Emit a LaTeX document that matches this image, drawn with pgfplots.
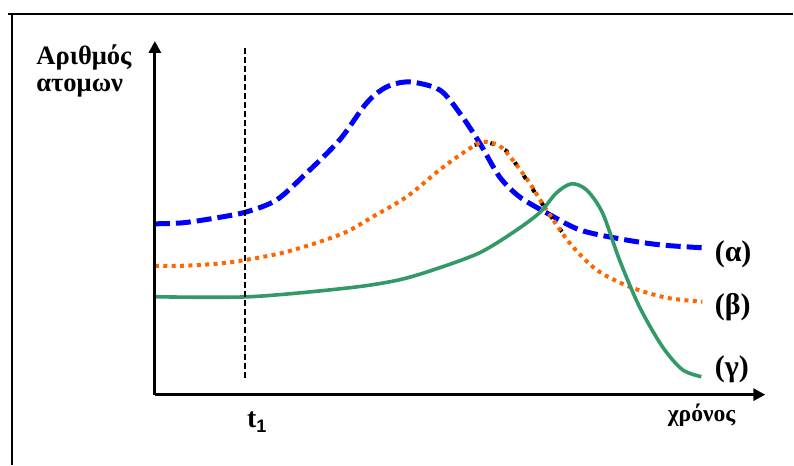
\documentclass[border=0pt]{standalone}
\usepackage{pgfplots}
\pgfplotsset{compat=1.18}
\usepackage{fontspec}
\setmainfont{Liberation Serif}
\newfontfamily\tnr{Liberation Serif}
\newfontfamily\arialf{Liberation Sans}
\usetikzlibrary{arrows.meta}

\definecolor{cA}{RGB}{0,0,255}
\definecolor{cB}{RGB}{255,102,0}
\definecolor{cC}{RGB}{51,153,102}

\begin{document}
\begin{tikzpicture}
\begin{axis}[
    scale only axis,
    width=397pt, height=232.5pt,
    xmin=-155, xmax=639, ymin=-70, ymax=395,
    axis lines=none,
    clip=false,
]
% keep the whole page as bounding box
\path (axis cs:-155,-70) rectangle (axis cs:639,395);
% frame of the page
\draw[line width=0.7pt] (axis cs:-147,381) -- (axis cs:639,381);
\draw[line width=0.7pt] (axis cs:-143,381) -- (axis cs:-143,-70);

% (alpha)
\addplot[cA, line width=2.5pt, dash pattern=on 7.5pt off 3pt, smooth, tension=0.5] coordinates {
(0,171) (28,172) (62,177) (92,183) (122,195) (152,222) (185,255) (212,292)
(232,308) (255,313) (285,305) (305,282) (325,252) (345,218) (365,198)
(392,182) (425,165) (465,156) (505,150) (548,147)};

% black dotted piece under (beta)
\addplot[black, line width=2pt, dash pattern=on 2pt off 6pt, smooth] coordinates {
(320,250) (335,252) (348,246) (355,240) (378,206) (387,192) (411,158)};

% (beta)
\addplot[cB, line width=2pt, dash pattern=on 2pt off 2.2pt, smooth, tension=0.5] coordinates {
(0,129) (28,129) (62,131) (92,135) (128,142) (162,152) (192,163) (218,178)
(252,198) (285,225) (310,243) (328,253) (345,249) (358,235) (375,212)
(392,185) (415,152) (442,125) (475,108) (512,97) (548,93)};

% (gamma)
\addplot[cC, line width=1.8pt, smooth, tension=0.5] coordinates {
(0,98) (95,98) (195,107) (245,115) (285,127) (325,142) (358,162) (385,182)
(402,202) (417,211) (432,205) (448,182) (465,135) (485,88) (508,48)
(528,25) (547,18)};

% axes
\draw[line width=1.5pt, -{Triangle[length=6pt,width=6pt]}] (axis cs:0,0) -- (axis cs:611,0);
\draw[line width=1.5pt, -{Triangle[length=6pt,width=6pt]}] (axis cs:0,0) -- (axis cs:0,354);
\draw[line width=1pt, dash pattern=on 3pt off 1.5pt] (axis cs:90,347) -- (axis cs:90,14);

% texts
\node[anchor=base west, font=\tnr\fontsize{13.3}{14}\selectfont\bfseries, inner sep=0pt] at (axis cs:-119,330) {Αριθμός};
\node[anchor=base west, font=\tnr\fontsize{13.3}{14}\selectfont\bfseries, inner sep=0pt] at (axis cs:-119,303) {ατομων};
\node[anchor=base west, font=\tnr\fontsize{11.8}{12}\selectfont\bfseries, inner sep=0pt] at (axis cs:513,-27) {χρόνος};
\node[anchor=base west, font=\tnr\fontsize{14}{15}\selectfont\bfseries, inner sep=0pt] at (axis cs:92,-33) {t\raisebox{-0.35ex}{\arialf\bfseries\fontsize{9}{10}\selectfont 1}};
\node[anchor=base west, font=\tnr\fontsize{15}{16}\selectfont\bfseries, inner sep=0pt] at (axis cs:560,133) {(α)};
\node[anchor=base west, font=\tnr\fontsize{15}{16}\selectfont\bfseries, inner sep=0pt] at (axis cs:560,80) {(β)};
\node[anchor=base west, font=\tnr\fontsize{15}{16}\selectfont\bfseries, inner sep=0pt] at (axis cs:560,18) {(γ)};
\end{axis}
\end{tikzpicture}
\end{document}
